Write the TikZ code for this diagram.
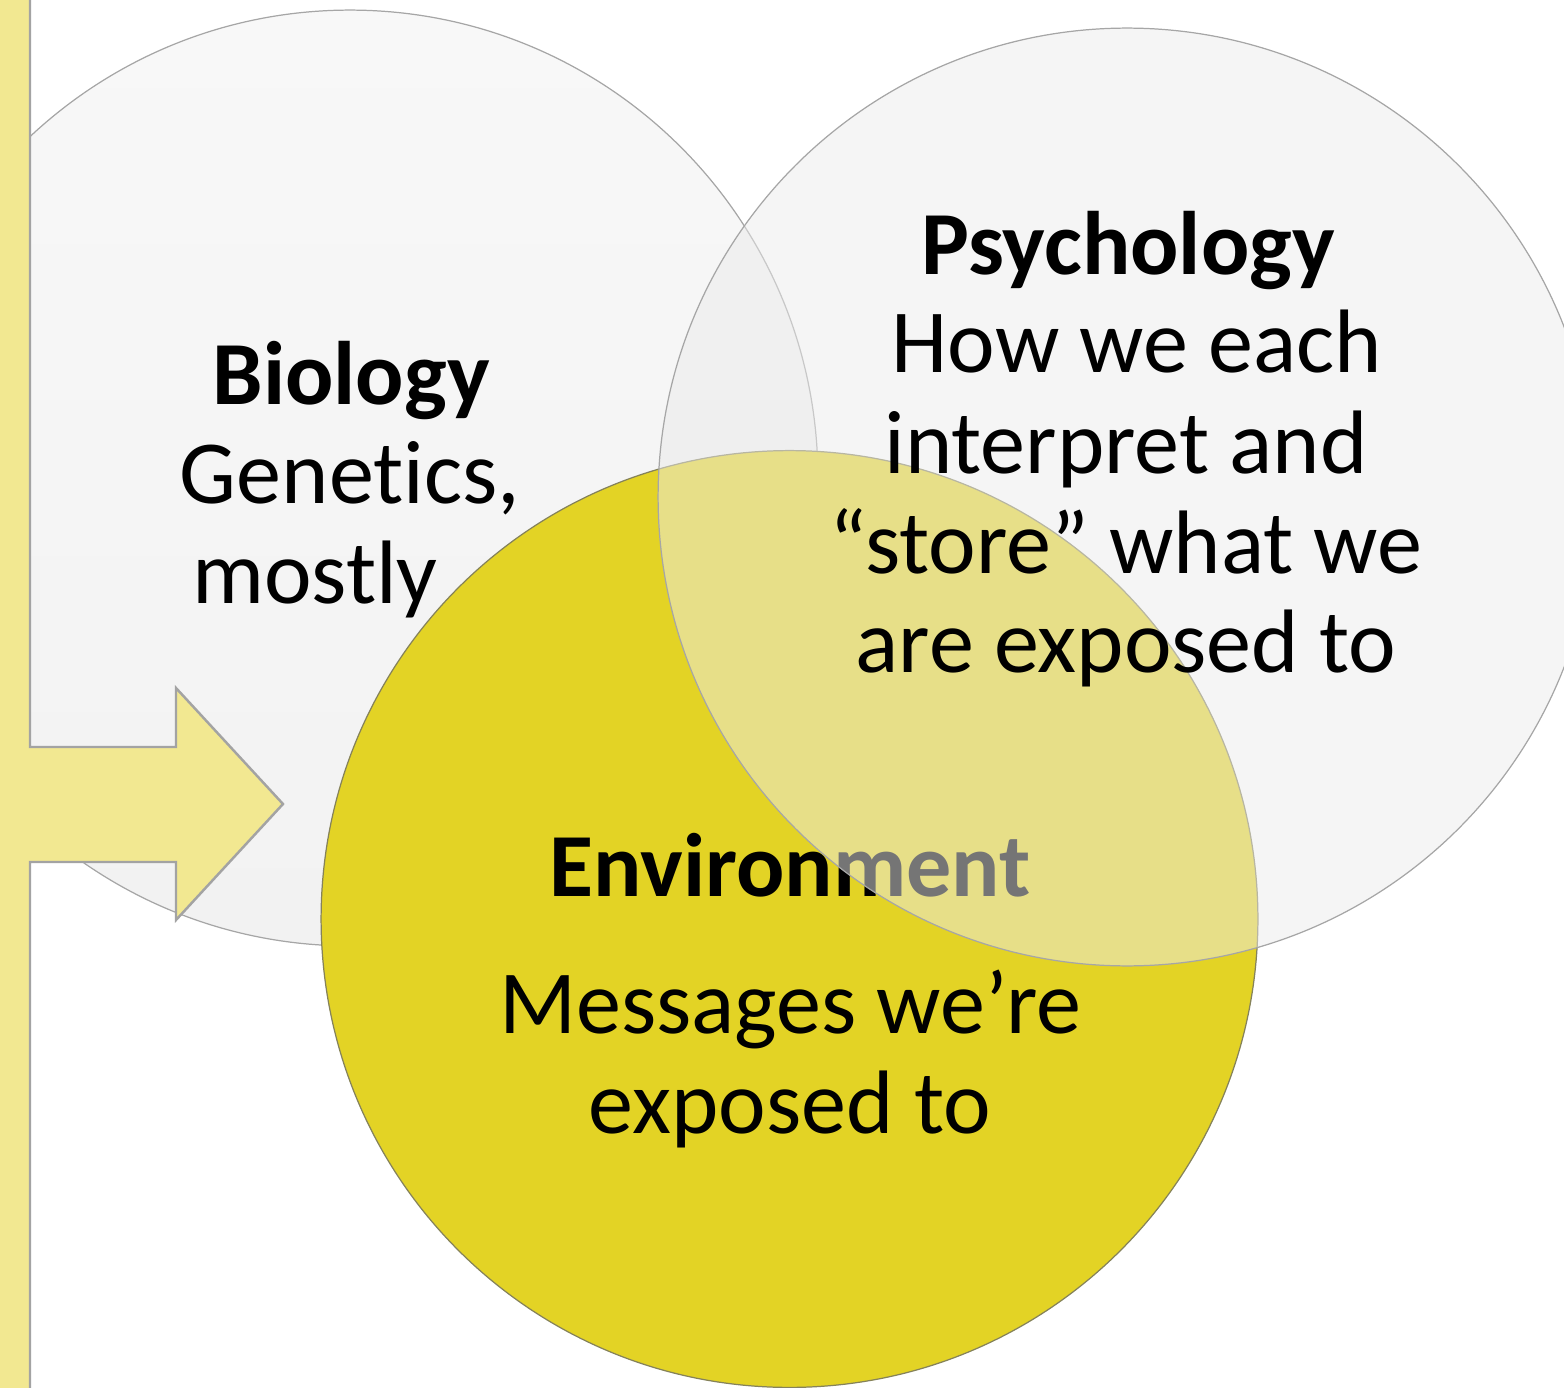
\documentclass[tikz,border=0pt]{standalone}
\usepackage{fontspec}
\setmainfont{Carlito}[Ligatures=NoCommon]
\definecolor{barfill}{HTML}{F2E891}
\definecolor{barline}{HTML}{A3A3A3}
\definecolor{ringgray}{HTML}{A6A6A6}
\definecolor{bioTop}{HTML}{F8F8F8}
\definecolor{bioBot}{HTML}{F2F2F2}
\definecolor{psyfill}{HTML}{EBEBEB}
\definecolor{envfill}{HTML}{E3D325}
\definecolor{envline}{HTML}{85825A}
\begin{document}
\begin{tikzpicture}[x=0.02cm,y=-0.02cm,
  venn/.style={circle, inner sep=0pt, line width=0.7pt},
  txt/.style={anchor=base, inner sep=0pt, text=black,
    font=\fontsize{51.3}{60}\selectfont},
  head/.style={txt, font=\fontsize{51.3}{60}\selectfont\bfseries},
  bar/.style={fill=barfill, draw=barline, line width=1.4pt, line join=miter}]
\clip (0,0) rectangle (1564,1388);

% Biology circle and its labels
\node[venn, draw=ringgray, top color=bioTop, bottom color=bioBot,
  minimum size=18.72cm] (bio) at (350,478) {};
\node[head] (bioT) at (351,405) {Biology};
\node[txt] (bio1) at (350,503) {Genetics,};
\node[txt] (bio2) at (315,603) {mostly};

% Environment circle and its labels
\node[venn, draw=envline, fill=envfill, minimum size=18.74cm] (env) at (789.5,919) {};
\node[head] (envT) at (790,896) {Environment};
\node[txt] (env1) at (790,1033) {Messages we’re};
\node[txt] (env2) at (790,1133) {exposed to};

% Psychology circle, half transparent, and its labels
\node[venn, draw=ringgray, fill=psyfill, fill opacity=0.5,
  minimum size=18.76cm] (psy) at (1127,497) {};
\node[head] (psyT) at (1128,275) {Psychology};
\node[txt] (psy1) at (1137,373) {How we each};
\node[txt] (psy2) at (1126,473) {interpret and};
\node[txt] (psy3) at (1126,573) {“store” what we};
\node[txt] (psy4) at (1126,672) {are exposed to};

% Vertical bar with the arrow that points into the circles
\draw[bar] (-10,-10) -- (30,-10) -- (30,747) -- (176,747) -- (176,688)
  -- (283,804) -- (176,920) -- (176,862) -- (30,862) -- (30,1400)
  -- (-10,1400) -- cycle;
\end{tikzpicture}
\end{document}
